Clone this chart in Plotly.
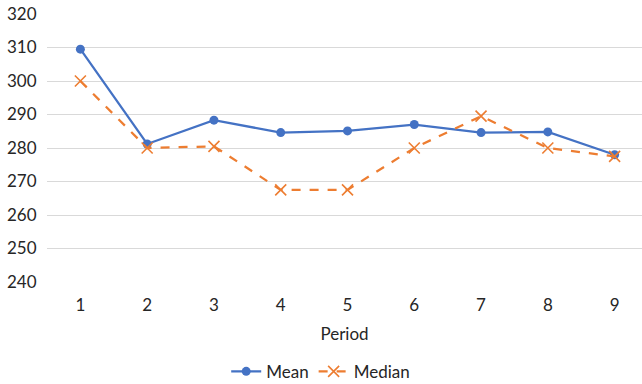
import plotly.graph_objects as go

periods = [1, 2, 3, 4, 5, 6, 7, 8, 9]
mean_vals = [309.5, 281.2, 288.3, 284.6, 285.1, 287.0, 284.6, 284.8, 278.0]
median_vals = [300.0, 280.0, 280.5, 267.5, 267.5, 280.0, 289.5, 280.0, 277.5]
y_ticks = [240, 250, 260, 270, 280, 290, 300, 310, 320]

BLUE = "#4472C4"
ORANGE = "#ED7D31"
TEXT = "#262626"
FONT = "Lato, 'Open Sans', sans-serif"

fig = go.Figure()
fig.add_trace(go.Scatter(
    x=periods, y=mean_vals, name="Mean", mode="lines+markers",
    line=dict(color=BLUE, width=2.25),
    marker=dict(symbol="circle", size=9, color=BLUE),
))
fig.add_trace(go.Scatter(
    x=periods, y=median_vals, name="Median", mode="lines+markers",
    line=dict(color=ORANGE, width=2.25, dash="dash"),
    marker=dict(symbol="x-thin", size=11, color=ORANGE,
                line=dict(color=ORANGE, width=1.6)),
))

fig.update_layout(
    width=642, height=384,
    margin=dict(l=47, r=0, t=14, b=102, autoexpand=False),
    plot_bgcolor="white", paper_bgcolor="white",
    font=dict(family=FONT, size=17, color=TEXT),
    showlegend=True,
    legend=dict(orientation="h", x=0.46, xanchor="center", y=-0.335, yanchor="middle",
                font=dict(size=17, color=TEXT), itemwidth=30, traceorder="normal"),
    xaxis=dict(
        range=[0.5, 9.41], tickmode="array", tickvals=periods,
        ticktext=[str(p) for p in periods],
        showgrid=False, zeroline=False, showline=False,
        ticks="outside", ticklen=8, tickcolor="rgba(0,0,0,0)",
        title=dict(text="Period", font=dict(size=17, color=TEXT), standoff=13),
    ),
    yaxis=dict(
        range=[240, 320], tickmode="array", tickvals=y_ticks,
        showgrid=True, gridcolor="#d9d9d9", gridwidth=1.2,
        zeroline=False, showline=False,
        ticks="outside", ticklen=6, tickcolor="rgba(0,0,0,0)",
    ),
)

fig.write_html("out.html")
